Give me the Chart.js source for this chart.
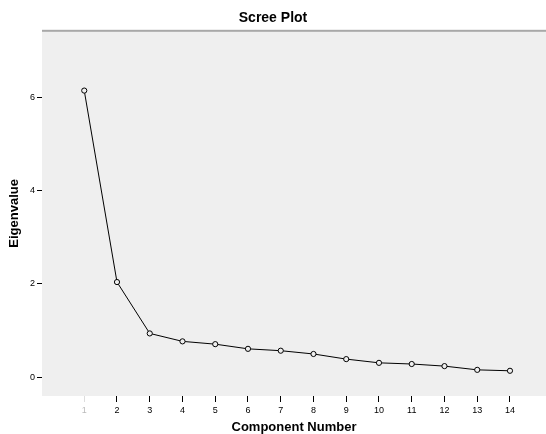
<!DOCTYPE html>
<html>
<head>
<meta charset="utf-8">
<script src="https://cdn.jsdelivr.net/npm/chart.js@4/dist/chart.umd.min.js"></script>
<style>
  html, body { margin: 0; padding: 0; background: #fff; overflow: hidden; }
  canvas { display: block; }
</style>
</head>
<body>
<canvas id="screeChart" width="546" height="434"></canvas>
<script>
var components = [1, 2, 3, 4, 5, 6, 7, 8, 9, 10, 11, 12, 13, 14];
var eigenvalues = [6.14, 2.04, 0.94, 0.77, 0.71, 0.61, 0.57, 0.50, 0.39, 0.31, 0.285, 0.24, 0.16, 0.14];
var yTicks = [0, 2, 4, 6];

var points = [];
for (var i = 0; i < components.length; i++) {
	points.push({ x: components[i], y: eigenvalues[i] });
}

// grey plot panel with a rule along its top edge
var panelBg = {
	id: 'panelBg',
	beforeDraw: function(chart) {
		var c = chart.ctx, a = chart.chartArea;
		c.save();
		c.fillStyle = '#efefef';
		c.fillRect(a.left, a.top, a.right - a.left, a.bottom - a.top);
		c.fillStyle = '#a8a8a8';
		c.fillRect(a.left, a.top - 1, a.right - a.left, 2);
		c.restore();
	}
};

var ctx = document.getElementById('screeChart').getContext('2d');
var myScreeChart = new Chart(ctx, {
	type: 'line',
	data: {
		datasets: [{
			label: 'Eigenvalue',
			data: points,
			borderColor: '#000',
			borderWidth: 1,
			pointRadius: 2.6,
			pointBorderWidth: 1,
			pointBorderColor: '#000',
			pointBackgroundColor: '#efefef',
			tension: 0
		}]
	},
	options: {
		responsive: false,
		animation: false,
		layout: { padding: 0, autoPadding: false },
		plugins: {
			legend: { display: false },
			tooltip: { enabled: false },
			title: {
				display: true,
				text: 'Scree Plot',
				color: '#000',
				font: { family: 'Liberation Sans', size: 14, weight: 'bold' },
				padding: { top: 10, bottom: 4 }
			}
		},
		scales: {
			x: {
				type: 'linear',
				min: -0.29,
				max: 15.1,
				afterBuildTicks: function(scale) {
					scale.ticks = components.map(function(v) { return { value: v }; });
				},
				afterFit: function(scale) {
					scale.height = 38;
					scale.paddingRight = 0;
					scale.paddingLeft = 0;
				},
				border: { display: false },
				grid: { drawOnChartArea: false, tickLength: 6, tickColor: function(c) { return c.tick && c.tick.value === 1 ? '#ddd' : '#000'; } },
				ticks: {
					color: function(c) { return c.tick && c.tick.value === 1 ? '#bbb' : '#000'; },
					padding: 3,
					autoSkip: false,
					maxRotation: 0,
					font: { family: 'Liberation Sans', size: 9 }
				},
				title: {
					display: true,
					text: 'Component Number',
					color: '#000',
					padding: { top: 0, bottom: 0 },
					font: { family: 'Liberation Sans', size: 13, weight: 'bold', lineHeight: 1 }
				}
			},
			y: {
				min: -0.4,
				max: 7.42,
				afterBuildTicks: function(scale) {
					scale.ticks = yTicks.map(function(v) { return { value: v }; });
				},
				afterFit: function(scale) {
					scale.width = 42;
					scale.paddingTop = 0;
					scale.paddingBottom = 0;
				},
				border: { display: false },
				grid: { drawOnChartArea: false, tickLength: 5, tickColor: '#000' },
				ticks: {
					color: '#000',
					padding: 2,
					font: { family: 'Liberation Sans', size: 9 }
				},
				title: {
					display: true,
					text: 'Eigenvalue',
					color: '#000',
					padding: { top: 7, bottom: 0 },
					font: { family: 'Liberation Sans', size: 13, weight: 'bold', lineHeight: 1.2 }
				}
			}
		}
	},
	plugins: [panelBg]
});
</script>
</body>
</html>
